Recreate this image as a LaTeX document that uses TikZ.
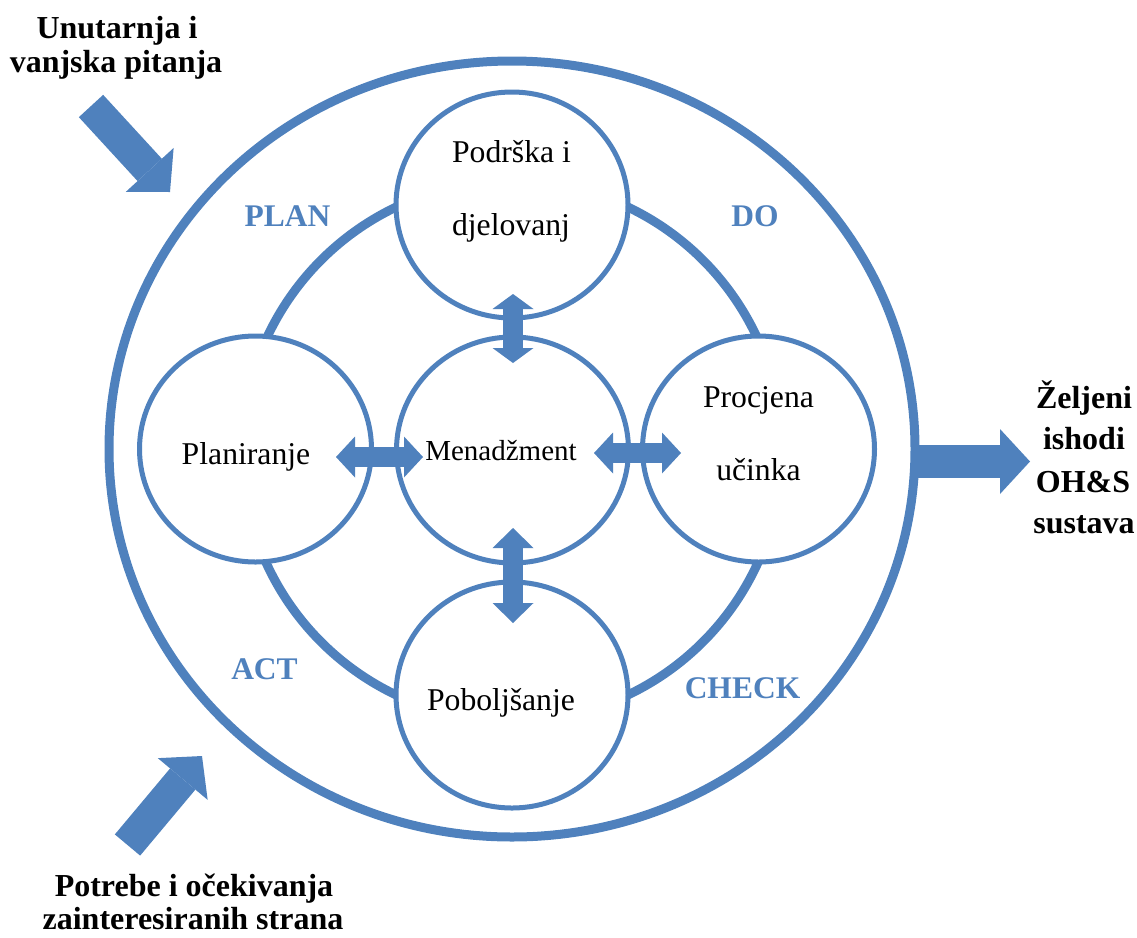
\documentclass[tikz,border=0pt]{standalone}
\usepackage{fontspec}
\setmainfont{Liberation Serif}
\usetikzlibrary{arrows.meta,shapes.geometric}
\definecolor{ob}{HTML}{4F81BD}
\begin{document}
\begin{tikzpicture}[x=1pt,y=-1pt,
  bigring/.style={draw=ob, line width=9pt, inner sep=0pt, outer sep=0pt},
  smallc/.style={ellipse, draw=ob, line width=5pt, fill=white, minimum width=232pt, minimum height=226pt, inner sep=0pt, outer sep=0pt},
  txt/.style={font=\fontsize{31.7}{38}\selectfont, anchor=base, inner sep=0pt},
  btxt/.style={font=\fontsize{32}{38}\selectfont\bfseries, anchor=base, inner sep=0pt},
  lbl/.style={font=\fontsize{31.5}{38}\selectfont\bfseries, text=ob, anchor=base, inner sep=0pt},
  dbl/.style={draw=ob, line width=20pt, {Triangle[length=#1,width=41pt,line width=0pt]}-{Triangle[length=#1,width=41pt,line width=0pt]}},
  blk/.style={draw=ob, line width=33pt, -{Triangle[length=30pt,width=65pt,line width=0pt]}},
]
\useasboundingbox (0,0) rectangle (1137,937);

% outer boundary and ring
\node[bigring, ellipse, minimum width=806pt, minimum height=776pt] (outer) at (512,449) {};
\node[bigring, circle, minimum size=540pt] (ring) at (512,451) {};

% five circles
\node[smallc] (top) at (512,205) {};
\node[smallc] (left) at (255.5,449) {};
\node[smallc] (mid) at (512.5,450) {};
\node[smallc] (right) at (758.5,449) {};
\node[smallc] (bot) at (512,695) {};

% double arrows between circles
\coordinate (a1s) at (513,294);   \coordinate (a1e) at (513,363);
\coordinate (a2s) at (513,528);   \coordinate (a2e) at (513,623);
\coordinate (a3s) at (336,457);   \coordinate (a3e) at (423,457);
\coordinate (a4s) at (594,453);   \coordinate (a4e) at (681,453);
\draw[dbl=15pt] (a1s) -- (a1e);
\draw[dbl=20pt] (a2s) -- (a2e);
\draw[dbl=19pt] (a3s) -- (a3e);
\draw[dbl=19pt] (a4s) -- (a4e);

% big arrows
\coordinate (b1s) at (91,106);    \coordinate (b1e) at (170,192);
\coordinate (b2s) at (127.5,845); \coordinate (b2e) at (202,756);
\coordinate (b3e) at (1030,461.5);
\draw[blk] (b1s) -- (b1e);
\draw[blk] (b2s) -- (b2e);
\draw[blk] (outer.east |- b3e) -- (b3e);

% texts in circles
\node[txt] (tpod) at (511.5,162) {Podrška i};
\node[txt] (tdje) at (511,235) {djelovanj};
\node[txt] (tpla) at (246,464) {Planiranje};
\node[txt, font=\fontsize{29}{35}\selectfont] (tmen) at (501,460) {Menadžment};
\node[txt] (tpro) at (758.5,407) {Procjena};
\node[txt] (tuci) at (758.5,480) {učinka};
\node[txt] (tpob) at (501,710) {Poboljšanje};

% PDCA labels
\node[lbl] (lplan) at (287.5,226) {PLAN};
\node[lbl] (ldo) at (755,226) {DO};
\node[lbl] (lact) at (264.5,679) {ACT};
\node[lbl] (lcheck) at (742.5,698) {CHECK};

% outside texts
\node[btxt] (in1) at (117,38) {Unutarnja i};
\node[btxt] (in2) at (116,72) {vanjska pitanja};
\node[btxt] (po1) at (194,896) {Potrebe i očekivanja};
\node[btxt] (po2) at (193,929) {zainteresiranih strana};
\node[btxt] (ou1) at (1084,408) {Željeni};
\node[btxt] (ou2) at (1084,449) {ishodi};
\node[btxt] (ou3) at (1083,492) {OH\&S};
\node[btxt] (ou4) at (1084,533) {sustava};
\end{tikzpicture}
\end{document}
